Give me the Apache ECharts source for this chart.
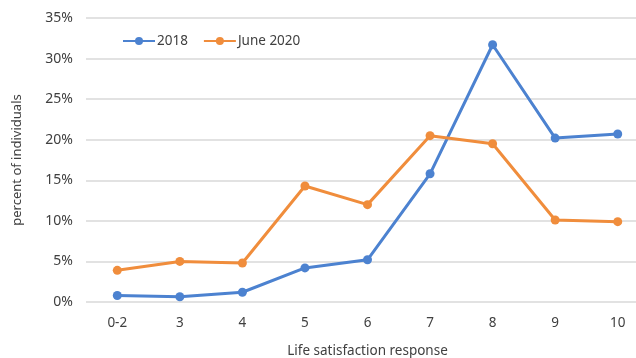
<!DOCTYPE html>
<html>
<head>
<meta charset="utf-8">
<script src="https://cdn.jsdelivr.net/npm/echarts@6/dist/echarts.min.js"></script>
<style>
  html, body { margin: 0; padding: 0; background: #fff; }
  #chart { width: 636px; height: 358px; }
</style>
</head>
<body>
<div id="chart"></div>
<script>
// Life satisfaction responses (percent of individuals)
const categories = ['0-2', '3', '4', '5', '6', '7', '8', '9', '10'];
const values2018 = [0.8, 0.65, 1.2, 4.2, 5.2, 15.8, 31.7, 20.2, 20.7];
const valuesJune2020 = [3.9, 5.0, 4.8, 14.3, 12.0, 20.5, 19.5, 10.1, 9.9];
const yTicks = [0, 5, 10, 15, 20, 25, 30, 35];

const blue = '#4c82d0';
const orange = '#f08d3c';
const textColor = '#404040';
const font = 'Noto Sans';

const chart = echarts.init(document.getElementById('chart'), null, { renderer: 'canvas' });

chart.setOption({
  animation: false,
  textStyle: { fontFamily: font },
  grid: { left: 86, top: 18, width: 563, height: 284, containLabel: false, outerBoundsMode: 'none' },
  legend: {
    left: 122, top: 34, padding: 0,
    itemWidth: 32, itemHeight: 10, itemGap: 15,
    textStyle: { fontSize: 13.5, color: textColor, fontFamily: font, padding: [0, 0, 0, -3] },
    data: ['2018', 'June 2020']
  },
  xAxis: {
    type: 'category',
    data: categories,
    boundaryGap: true,
    axisLine: { show: false },
    axisTick: { show: false },
    axisLabel: { color: textColor, fontSize: 13.5, margin: 14 },
    name: 'Life satisfaction response',
    nameLocation: 'middle',
    nameGap: 42,
    nameTextStyle: { color: textColor, fontSize: 13.5 }
  },
  yAxis: {
    type: 'value',
    min: 0, max: 35, interval: 5,
    axisLine: { show: false },
    axisTick: { show: false },
    axisLabel: {
      color: textColor, fontSize: 14, margin: 13,
      formatter: v => yTicks.includes(v) ? v + '%' : ''
    },
    splitLine: { lineStyle: { color: '#d9d9d9', width: 1.5 } },
    name: 'percent of individuals',
    nameLocation: 'middle',
    nameGap: 62,
    nameTextStyle: { color: textColor, fontSize: 13 }
  },
  series: [
    {
      name: '2018', type: 'line', data: values2018,
      color: blue,
      symbol: 'circle', symbolSize: 9,
      lineStyle: { width: 3, color: blue },
      itemStyle: { color: blue }
    },
    {
      name: 'June 2020', type: 'line', data: valuesJune2020,
      color: orange,
      symbol: 'circle', symbolSize: 9,
      lineStyle: { width: 3, color: orange },
      itemStyle: { color: orange }
    }
  ]
});
</script>
</body>
</html>
